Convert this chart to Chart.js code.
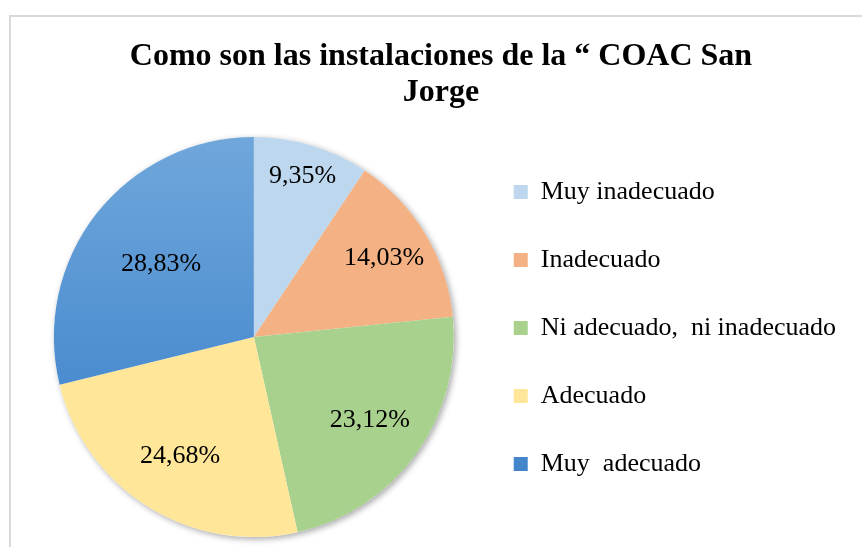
<!DOCTYPE html>
<html>
<head>
<meta charset="utf-8">
<script src="https://cdn.jsdelivr.net/npm/chart.js@4.4.1/dist/chart.umd.min.js"></script>
<style>
  body { margin: 0; background: #fff; }
  #wrap { position: relative; width: 862px; height: 547px; overflow: hidden; }
  #frame { position: absolute; left: 9px; top: 15px; width: 900px; height: 600px; border: 2px solid #d9d9d9; }
  #chart { position: absolute; left: 0; top: 0; }
</style>
</head>
<body>
<div id="wrap">
  <div id="frame"></div>
  <canvas id="chart" width="862" height="547"></canvas>
</div>
<script>
const titleLines = ['Como son las instalaciones de la “ COAC San', 'Jorge'];
const categories = ['Muy inadecuado', 'Inadecuado', 'Ni adecuado,  ni inadecuado', 'Adecuado', 'Muy  adecuado'];
const percentages = [9.35, 14.03, 23.12, 24.68, 28.83];
const sliceColors = ['#BDD7EE', '#F4B183', '#A9D18E', '#FFE699', '#5B9BD5'];
// how far out (share of the radius) each percent label sits, like Excel's best fit
const labelDistance = [0.84, 0.76, 0.715, 0.70, 0.59];

const serif = '"Liberation Serif", "Times New Roman", serif';
const percentLabels = percentages.map(v => v.toFixed(2).replace('.', ',') + '%');

// blue slice has a soft top-to-bottom gradient
const sliceFill = (ctx) => {
  const i = ctx.dataIndex;
  if (i !== 4) return sliceColors[i];
  const area = ctx.chart.chartArea;
  if (!area) return sliceColors[i];
  const g = ctx.chart.ctx.createLinearGradient(0, area.top, 0, area.bottom);
  g.addColorStop(0, '#70A7DB');
  g.addColorStop(0.62, '#4A8CCF');
  g.addColorStop(1, '#3E80C8');
  return g;
};

const pieShadow = {
  id: 'pieShadow',
  beforeDatasetsDraw(chart) {
    const arc = chart.getDatasetMeta(0).data[0];
    if (!arc) return;
    const { ctx } = chart;
    ctx.save();
    ctx.shadowColor = 'rgba(0, 0, 0, 0.35)';
    ctx.shadowBlur = 6;
    ctx.shadowOffsetX = 2;
    ctx.shadowOffsetY = 2;
    ctx.fillStyle = '#ffffff';
    ctx.beginPath();
    ctx.arc(arc.x, arc.y, arc.outerRadius, 0, Math.PI * 2);
    ctx.fill();
    ctx.restore();
  }
};

const sliceLabels = {
  id: 'sliceLabels',
  afterDatasetsDraw(chart) {
    const { ctx } = chart;
    const meta = chart.getDatasetMeta(0);
    ctx.save();
    ctx.font = '26px ' + serif;
    ctx.fillStyle = '#000';
    ctx.textAlign = 'center';
    ctx.textBaseline = 'middle';
    meta.data.forEach((arc, i) => {
      const mid = (arc.startAngle + arc.endAngle) / 2;
      const r = arc.outerRadius * labelDistance[i];
      ctx.fillText(percentLabels[i], arc.x + Math.cos(mid) * r, arc.y + Math.sin(mid) * r);
    });
    ctx.restore();
  }
};

const ctx = document.getElementById('chart').getContext('2d');
new Chart(ctx, {
  type: 'pie',
  data: {
    labels: categories,
    datasets: [{
      data: percentages,
      backgroundColor: sliceFill,
      borderWidth: 0,
      hoverOffset: 0
    }]
  },
  options: {
    responsive: false,
    animation: false,
    events: [],
    layout: { padding: { top: 12, left: 36, right: 16, bottom: 10 } },
    plugins: {
      title: {
        display: true,
        text: titleLines,
        color: '#000',
        font: { family: serif, size: 32, weight: 'bold', lineHeight: 1.125 },
        padding: { top: 27, bottom: 26 }
      },
      legend: {
        position: 'right',
        align: 'start',
        fullSize: false,
        labels: {
          boxWidth: 14,
          boxHeight: 14,
          padding: 42,
          color: '#000',
          font: { family: serif, size: 26 }
        }
      },
      tooltip: { enabled: false }
    }
  },
  plugins: [pieShadow, sliceLabels]
});
</script>
</body>
</html>
